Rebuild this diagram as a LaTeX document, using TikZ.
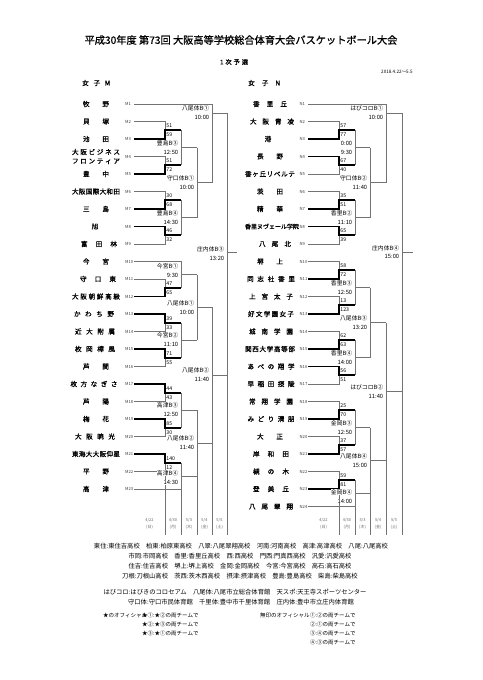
\documentclass[tikz,border=0pt]{standalone}
\usepackage{fontspec}
\newfontfamily\jp{Noto Sans CJK JP}
\newfontfamily\jpb[FakeBold=1]{Noto Sans CJK JP}
\usetikzlibrary{calc}
\makeatletter
\newcommand\spread[2]{\makebox[#1pt][s]{\spread@a#2\@nil}}
\def\spread@a#1#2\@nil{#1\ifx\relax#2\relax\else\hfill\spread@a#2\@nil\fi}
\makeatother
% first-round match: top, bottom, column, next column, winner(1/2), score top, score bottom, name
\newcommand\rone[8]{%
  \path (#1 -| #3) coordinate (#8t) (#2 -| #3) coordinate (#8b);
  \path ($(#8t)!0.5!(#8b)$) coordinate (#8m);
  \path (#8m -| #4) coordinate (#8o);
  \draw[thinl] (#1) -- (#8t) -- (#8b) -- (#2) (#8m) -- (#8o);
  \ifnum#5=1 \draw[thickl] (#1) -- (#8t) -- (#8m) -- (#8o);
  \else \draw[thickl] (#2) -- (#8b) -- (#8m) -- (#8o); \fi
  \node[score] (#8s) at ($(#8t)+(1.2,4.2)$) {#6};
  \node[score] (#8u) at ($(#8b)+(1.2,-4.2)$) {#7};
}
% later match: [label shift] top, bottom, column, next column, exit fraction, name, venue, time
\newcommand\mt[9][0]{%
  \path (#2 -| #4) coordinate (#7t) (#3 -| #4) coordinate (#7b);
  \path ($(#7t)!#6!(#7b)$) coordinate (#7m);
  \path (#7m -| #5) coordinate (#7o);
  \draw[thinl] (#2) -- (#7t) -- (#7b) -- (#3) (#7m) -- (#7o);
  \node[venue] (#7v) at ($(#7m)+(-2.3,-4.5+#1)$) {#8};
  \node[venue] (#7w) at ($(#7m)+(-2.3,4.6+#1)$) {#9};
}
\begin{document}
\begin{tikzpicture}[x=1pt,y=-1pt,
  thinl/.style={draw=black!55,line width=0.7pt},
  thickl/.style={draw=black,line width=1.6pt},
  team/.style={inner sep=0pt,font=\jpb\fontsize{6.6}{9}\selectfont},
  code/.style={inner sep=0pt,anchor=west,font=\jp\fontsize{4.2}{5}\selectfont,text=black!75},
  score/.style={inner sep=0pt,anchor=west,font=\jp\fontsize{5.2}{6}\selectfont},
  venue/.style={inner sep=0.3pt,fill=white,anchor=east,font=\jp\fontsize{5.8}{6}\selectfont},
  date/.style={inner sep=0pt,align=center,font=\jp\fontsize{4}{6.5}\selectfont,text=black!60},
  foot/.style={inner sep=0pt,font=\jp\fontsize{6.3}{7}\selectfont},
  offi/.style={inner sep=0pt,anchor=west,font=\jp\fontsize{5.5}{6}\selectfont}]
\useasboundingbox (0,0) rectangle (482,680);
\fill[white] (0,0) rectangle (482,680);

% headings
\node[inner sep=0pt,font=\jpb\fontsize{10.2}{12}\selectfont] (title) at (241,40) {平成30年度 第73回 大阪高等学校総合体育大会バスケットボール大会};
\node[inner sep=0pt,font=\jpb\fontsize{6.2}{8}\selectfont] (sub) at (234,62) {\spread{28}{1次予選}};
\node[inner sep=0pt,anchor=west,font=\jp\fontsize{4.6}{5}\selectfont] (period) at (381,72) {2018.4.22～5.5};
\node[inner sep=0pt,anchor=west,font=\jpb\fontsize{6.6}{8}\selectfont] (blockM) at (82,83) {\spread{28}{女子M}};
\node[inner sep=0pt,anchor=west,font=\jpb\fontsize{6.6}{8}\selectfont] (blockN) at (248,83) {\spread{32}{女子N}};

% columns
\coordinate (L1) at (165,0); \coordinate (L2) at (181,0); \coordinate (L3) at (197,0);
\coordinate (L4) at (212,0); \coordinate (L5) at (227,0); \coordinate (L6) at (237,0);
\coordinate (R1) at (339,0); \coordinate (R2) at (355,0); \coordinate (R3) at (370,0);
\coordinate (R4) at (386,0); \coordinate (R5) at (402,0); \coordinate (R6) at (413,0);
\coordinate (B) at (0,535);

% team line starts and codes
\foreach \i in {1,...,23}{
  \pgfmathsetmacro\yy{104+(\i-1)*17.5}
  \coordinate (M\i) at (134,\yy);
  \node[code] (cM\i) at (125,\yy) {M\i};
}
\foreach \i in {1,...,24}{
  \pgfmathsetmacro\yy{104+(\i-1)*17.5}
  \coordinate (N\i) at (308,\yy);
  \node[code] (cN\i) at (299.5,\yy) {N\i};
}

% column guides (drawn first, labels sit on top)
\path (134,471.5) coordinate (gA) (134,489) coordinate (gB);

% team names M
\node[team] (nM1) at (96,104) {\spread{26}{牧野}};
\node[team] (nM2) at (96,121.5) {\spread{26}{貝塚}};
\node[team] (nM3) at (96,139) {\spread{26}{池田}};
\node[team,align=center] (nM4) at (96,156.5) {\spread{48}{大阪ビジネス}\\\spread{48}{フロンティア}};
\node[team] (nM5) at (96,174) {\spread{26}{豊中}};
\node[team] (nM6) at (96,191.5) {\spread{48}{大阪国際大和田}};
\node[team] (nM7) at (96,209) {\spread{26}{三島}};
\node[team] (nM8) at (95,226.5) {旭};
\node[team] (nM9) at (99,244) {\spread{36}{富田林}};
\node[team] (nM10) at (96,261.5) {\spread{26}{今宮}};
\node[team] (nM11) at (98,279) {\spread{36}{守口東}};
\node[team] (nM12) at (96,296.5) {\spread{48}{大阪朝鮮高級}};
\node[team] (nM13) at (94,314) {\spread{40}{かわち野}};
\node[team] (nM14) at (95,331.5) {\spread{40}{近大附属}};
\node[team] (nM15) at (95,349) {\spread{40}{枚岡樟風}};
\node[team] (nM16) at (96,366.5) {\spread{26}{芦間}};
\node[team] (nM17) at (94,384) {\spread{47}{枚方なぎさ}};
\node[team] (nM18) at (96,401.5) {\spread{26}{芦陽}};
\node[team] (nM19) at (96,419) {\spread{26}{梅花}};
\node[team] (nM20) at (95,436.5) {\spread{40}{大阪暁光}};
\node[team] (nM21) at (96,454) {\spread{48}{東海大大阪仰星}};
\node[team] (nM22) at (96,471.5) {\spread{26}{平野}};
\node[team] (nM23) at (96,489) {\spread{26}{高津}};

% team names N
\node[team] (nN1) at (270,104) {\spread{34}{香里丘}};
\node[team] (nN2) at (272,121.5) {\spread{44}{大阪青凌}};
\node[team] (nN3) at (268,139) {港};
\node[team] (nN4) at (270,156.5) {\spread{26}{長野}};
\node[team] (nN5) at (270,174) {\spread{50}{香ヶ丘リベルテ}};
\node[team] (nN6) at (270,191.5) {\spread{26}{茨田}};
\node[team] (nN7) at (270,209) {\spread{26}{精華}};
\node[team,font=\jpb\fontsize{6}{7}\selectfont] (nN8) at (272,226.5) {香里ヌヴェール学院};
\node[team] (nN9) at (275,244) {\spread{32}{八尾北}};
\node[team] (nN10) at (270,261.5) {\spread{26}{堺上}};
\node[team] (nN11) at (271,279) {\spread{48}{同志社香里}};
\node[team] (nN12) at (271,296.5) {\spread{44}{上宮太子}};
\node[team] (nN13) at (271,314) {\spread{46}{好文学園女子}};
\node[team] (nN14) at (271,331.5) {\spread{44}{城南学園}};
\node[team] (nN15) at (270,349) {\spread{50}{関西大学高等部}};
\node[team] (nN16) at (271,366.5) {\spread{47}{あべの翔学}};
\node[team] (nN17) at (271,384) {\spread{47}{早稲田摂陵}};
\node[team] (nN18) at (271,401.5) {\spread{44}{常翔学園}};
\node[team] (nN19) at (271,419) {\spread{47}{みどり清朋}};
\node[team] (nN20) at (270,436.5) {\spread{26}{大正}};
\node[team] (nN21) at (271,454) {\spread{36}{岸和田}};
\node[team] (nN22) at (271,471.5) {\spread{36}{槻の木}};
\node[team] (nN23) at (271,489) {\spread{36}{登美丘}};
\node[team] (nN24) at (271,506.5) {\spread{44}{八尾翠翔}};

% guide lines below the brackets (drawn before the bracket labels)
\foreach \gx in {165,181,197,212,227,339,355,370,386,402}{
  \coordinate (gtop\gx) at (\gx,0);
}
\draw[thinl] (gtop165 |- M22) -- (gtop165 |- B);
\draw[thinl] (gtop181 |- M23) -- (gtop181 |- B);
\draw[thinl] (gtop339 |- N23) -- (gtop339 |- B);
\draw[thinl] (gtop355 |- N24) -- (gtop355 |- B);

% bracket M
\rone{M2}{M3}{L1}{L2}{2}{51}{59}{a1}
\rone{M4}{M5}{L1}{L2}{2}{51}{72}{a2}
\rone{M6}{M7}{L1}{L2}{2}{30}{68}{a3}
\rone{M8}{M9}{L1}{L2}{1}{46}{32}{a4}
\rone{M11}{M12}{L1}{L2}{2}{47}{65}{a5}
\rone{M13}{M14}{L1}{L2}{1}{39}{33}{a6}
\rone{M15}{M16}{L1}{L2}{1}{71}{55}{a7}
\rone{M17}{M18}{L1}{L2}{1}{44}{43}{a8}
\rone{M19}{M20}{L1}{L2}{1}{85}{30}{a9}
\rone{M21}{M22}{L1}{L2}{1}{140}{12}{a10}
\mt{a1o}{a2o}{L2}{L3}{0.5}{b1}{豊島B③}{12:50}
\mt{a3o}{a4o}{L2}{L3}{0.5}{b2}{豊島B④}{14:30}
\mt[-3.5]{M10}{a5o}{L2}{L3}{0.5}{b3}{今宮B①}{9:30}
\mt{a6o}{a7o}{L2}{L3}{0.5}{b4}{今宮B②}{11:10}
\mt{a8o}{a9o}{L2}{L3}{0.5}{b5}{高津B③}{12:50}
\mt[1.8]{a10o}{M23}{L2}{L3}{0.5}{b6}{高津B④}{14:30}
\mt{b1o}{b2o}{L3}{L4}{0.5}{c1}{守口体B①}{10:00}
\mt{b3o}{b4o}{L3}{L4}{0.5}{c2}{八尾体B①}{10:00}
\mt{b5o}{b6o}{L3}{L4}{0.5}{c3}{八尾体B②}{11:40}
\mt{M1}{c1o}{L4}{L5}{0.114}{d1}{八尾体B①}{10:00}
\mt{c2o}{c3o}{L4}{L5}{0.5}{d2}{八尾体B②}{11:40}
\mt[1.5]{d1o}{d2o}{L5}{L6}{0.53}{e1}{庄内体B③}{13:20}

% bracket N
\rone{N2}{N3}{R1}{R2}{2}{57}{77}{p1}
\rone{N4}{N5}{R1}{R2}{1}{67}{40}{p2}
\rone{N6}{N7}{R1}{R2}{2}{35}{51}{p3}
\rone{N8}{N9}{R1}{R2}{1}{65}{39}{p4}
\rone{N10}{N11}{R1}{R2}{2}{58}{72}{p5}
\rone{N12}{N13}{R1}{R2}{2}{13}{123}{p6}
\rone{N14}{N15}{R1}{R2}{2}{62}{63}{p7}
\rone{N16}{N17}{R1}{R2}{1}{56}{51}{p8}
\rone{N18}{N19}{R1}{R2}{2}{25}{70}{p9}
\rone{N20}{N21}{R1}{R2}{2}{37}{57}{p10}
\rone{N22}{N23}{R1}{R2}{2}{59}{81}{p11}
\mt{p1o}{p2o}{R2}{R3}{0.5}{q1}{0:00}{9:30}
\mt{p3o}{p4o}{R2}{R3}{0.5}{q2}{香里B②}{11:10}
\mt{p5o}{p6o}{R2}{R3}{0.5}{q3}{香里B③}{12:50}
\mt{p7o}{p8o}{R2}{R3}{0.5}{q4}{香里B④}{14:00}
\mt{p9o}{p10o}{R2}{R3}{0.5}{q5}{金岡B③}{12:50}
\mt[3]{p11o}{N24}{R2}{R3}{0.5}{q6}{金岡B④}{14:00}
\mt{q1o}{q2o}{R3}{R4}{0.5}{r1}{守口体B②}{11:40}
\mt{q3o}{q4o}{R3}{R4}{0.5}{r2}{八尾体B③}{13:20}
\mt{q5o}{q6o}{R3}{R4}{0.5}{r3}{八尾体B④}{15:00}
\mt{N1}{r1o}{R4}{R5}{0.114}{s1}{はびコロB①}{10:00}
\mt{r2o}{r3o}{R4}{R5}{0.5}{s2}{はびコロB②}{11:40}
\mt{s1o}{s2o}{R5}{R6}{0.5}{u1}{庄内体B④}{15:00}

% remaining guides
\foreach \p in {c3b,d2b,e1b,r3b,s2b,u1b}{
  \draw[thinl] (\p) -- (\p |- B);
}
% dates
\node[date] (dl1) at (149.5,524) {4/22\\(日)};
\node[date] (dl2) at (173,524) {4/30\\(月)};
\node[date] (dl3) at (189,524) {5/3\\(木)};
\node[date] (dl4) at (204.5,524) {5/4\\(金)};
\node[date] (dl5) at (219.5,524) {5/5\\(土)};
\node[date] (dr1) at (323.5,524) {4/22\\(日)};
\node[date] (dr2) at (347,524) {4/30\\(月)};
\node[date] (dr3) at (362.5,524) {5/3\\(木)};
\node[date] (dr4) at (378,524) {5/4\\(金)};
\node[date] (dr5) at (394,524) {5/5\\(土)};

% footer
\node[foot] (f1) at (241,546) {東住:東住吉高校　柏東:柏原東高校　八翠:八尾翠翔高校　河南:河南高校　高津:高津高校　八尾:八尾高校};
\node[foot] (f2) at (240,556) {市岡:市岡高校　香里:香里丘高校　西:西高校　門西:門真西高校　汎愛:汎愛高校};
\node[foot] (f3) at (240,566) {住吉:住吉高校　堺上:堺上高校　金岡:金岡高校　今宮:今宮高校　高石:高石高校};
\node[foot] (f4) at (240,576) {刀根:刀根山高校　茨西:茨木西高校　摂津:摂津高校　豊島:豊島高校　柴島:柴島高校};
\node[foot] (f5) at (235,592) {はびコロ:はびきのコロセアム　八尾体:八尾市立総合体育館　天スポ:天王寺スポーツセンター};
\node[foot] (f6) at (241,602) {守口体:守口市民体育館　千里体:豊中市千里体育館　庄内体:豊中市立庄内体育館};
\node[offi] (o1) at (103,615) {★のオフィシャル};
\node[offi] (o2) at (142,615) {★①:★②の両チームで};
\node[offi] (o3) at (142,624) {★②:★③の両チームで};
\node[offi] (o4) at (142,633) {★③:★①の両チームで};
\node[offi] (o5) at (260,615) {無印のオフィシャル};
\node[offi] (o6) at (310,615) {①:②の両チームで};
\node[offi] (o7) at (310,624) {②:①の両チームで};
\node[offi] (o8) at (310,633) {③:④の両チームで};
\node[offi] (o9) at (310,642) {④:③の両チームで};
\end{tikzpicture}
\end{document}
